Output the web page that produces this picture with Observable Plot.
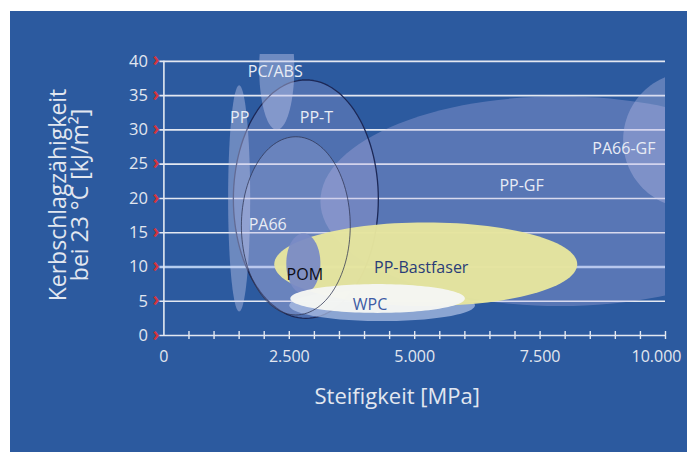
<!DOCTYPE html>
<html><head><meta charset="utf-8">
<script src="https://cdn.jsdelivr.net/npm/d3@7"></script>
<script src="https://cdn.jsdelivr.net/npm/@observablehq/plot@0.6"></script>
<style>
html,body{margin:0;padding:0;background:#fff;width:687px;height:452px;overflow:hidden}
#panel{position:absolute;left:10px;top:11px;width:677px;height:441px;background:#2c5a9f}
#chart{position:absolute;left:0;top:0}
</style></head><body><div id="panel"></div><div id="chart"></div>
<script>
// Werkstoffbereiche: Steifigkeit [MPa] (Mitte, Halbbreite), Kerbschlagzähigkeit [kJ/m²] (Mitte, Halbhöhe)
const materials     = ["PP-GF", "PA66-GF", "PP-T", "PA66", "PP", "PC/ABS", "WPC-Rand", "PP-Bastfaser", "POM", "WPC"];
const stiffCenter   = [7900, 10490, 2830, 2630, 1500, 2250, 4350, 5220, 2780, 4260];
const stiffRadius   = [4780, 1335, 1445, 1085, 220, 350, 1850, 3020, 340, 1740];
const impactCenter  = [19.6, 28.5, 19.9, 16.0, 20.0, 39.0, 4.4, 10.4, 10.5, 5.4];
const impactRadius  = [15.3, 9.9, 17.4, 13.0, 16.5, 9.0, 2.3, 6.1, 4.4, 2.1];

// Beschriftungen (Lage in Datenkoordinaten)
const labelNames    = ["PC/ABS", "PP", "PP-T", "PA66", "POM", "PP-Bastfaser", "WPC", "PP-GF", "PA66-GF"];
const labelStiff    = [2220, 1510, 3040, 2070, 2810, 5130, 4110, 7130, 9170];
const labelImpact   = [38.4, 31.8, 31.7, 16.1, 8.8, 9.8, 4.4, 21.8, 27.3];

const yTicks = [0, 5, 10, 15, 20, 25, 30, 35, 40];
const xTicks = [0, 500, 1000, 1500, 2000, 2500, 3000, 3500, 4000, 4500, 5000, 5500, 6000, 6500, 7000, 7500, 8000, 8500, 9000, 9500, 10000];
const xLabels = [0, 2500, 5000, 7500];
const xLastLabel = [10000];

// Stile
const styles = {
  "PP-GF":        {fill: "#c0b8e8", fillOpacity: 0.30, stroke: "none", clip: true},
  "PA66-GF":      {fill: "#c8c8ee", fillOpacity: 0.34, stroke: "none", clip: true},
  "PP-T":         {fill: "#c0b8e8", fillOpacity: 0.24, stroke: "#1c2857", strokeWidth: 1.3},
  "PA66":         {fill: "#c8c8ee", fillOpacity: 0.22, stroke: "none"},
  "PP":           {fill: "#ccd0f0", fillOpacity: 0.40, stroke: "none"},
  "PC/ABS":       {fill: "#ccd0f0", fillOpacity: 0.42, stroke: "none", clip: true},
  "WPC-Rand":     {fill: "#b3c5e8", fillOpacity: 0.7, stroke: "none"},
  "PP-Bastfaser": {fill: "#e6e59e", fillOpacity: 0.97, stroke: "none"},
  "POM":          {fill: "#7a8bc5", fillOpacity: 0.95, stroke: "none"},
  "WPC":          {fill: "#f5f6f3", fillOpacity: 0.97, stroke: "none"}
};
const labelColors = {"POM": "#0c0c14", "PP-Bastfaser": "#2a3d78", "WPC": "#3e5ba4"};

function outline(i) {
  const pts = [];
  const n = 120;
  for (let k = 0; k < n; k++) {
    const t = 2 * Math.PI * k / n;
    pts.push({x: stiffCenter[i] + stiffRadius[i] * Math.cos(t), y: impactCenter[i] + impactRadius[i] * Math.sin(t)});
  }
  return pts;
}

const de = d3.formatLocale({decimal: ",", thousands: ".", grouping: [3], currency: ["", " €"]});
const fmt = de.format(",");

const shapeMarks = materials.map((m, i) => {
  const s = styles[m];
  return Plot.line(outline(i), {x: "x", y: "y", curve: "linear-closed", fill: s.fill, fillOpacity: s.fillOpacity,
    stroke: s.stroke, strokeWidth: s.strokeWidth || 1, clip: !!s.clip});
});
const blueShapes = shapeMarks.slice(0, 6);
const topShapes = shapeMarks.slice(6);
const pa66Index = materials.indexOf("PA66");
const txt = "#e2e7f0";

const chart = Plot.plot({
  width: 687, height: 452,
  marginLeft: 163.4, marginRight: 22, marginTop: 54, marginBottom: 117,
  x: {domain: [0, 10000], axis: null},
  y: {domain: [0, 41], axis: null},
  style: {background: "transparent", fontFamily: "'Open Sans', sans-serif", overflow: "visible"},
  marks: [
    Plot.ruleY(yTicks.filter(d => d !== 10 && d !== 0), {y: d => d, x1: 0, x2: 10000, insetLeft: -4, stroke: "#e3e8f1", strokeWidth: 1.6}),
    Plot.ruleY(yTicks.filter(d => d === 10), {y: d => d, x1: 0, x2: 10000, insetLeft: -4, stroke: "#b4cdf0", strokeWidth: 2.6}),
    ...blueShapes,
    ...topShapes,
    Plot.line(outline(pa66Index), {x: "x", y: "y", curve: "linear-closed", fill: "none", stroke: "#2d3350", strokeOpacity: 0.75, strokeWidth: 1}),
    Plot.ruleY([0], {y: d => d, x1: 0, x2: 10000, insetLeft: -4, stroke: "#e3e8f1", strokeWidth: 1.6}),
    Plot.ruleX([0], {x: d => d, y1: 0, y2: 40, stroke: "#e3e8f1", strokeWidth: 1.6}),
    Plot.ruleX(xTicks.filter(d => d > 0), {x: d => d, y1: 0, y2: 0, insetTop: -4, insetBottom: -4, stroke: "#e3e8f1", strokeWidth: 1.4}),
    Plot.text(yTicks, {x: 0, y: d => d, text: d => String(d), dx: -16, textAnchor: "end", fill: txt, fontSize: 16.5}),
    Plot.text(yTicks, {x: 0, y: d => d, text: () => "›", dx: -8, dy: -1, fill: "#d3343c", fontSize: 19, fontWeight: "bold"}),
    Plot.text(xLabels, {x: d => d, y: 0, text: d => fmt(d), dy: 21, fill: txt, fontSize: 16}),
    Plot.text(xLastLabel, {x: d => d, y: 0, text: d => fmt(d), dy: 21, dx: 16, textAnchor: "end", fill: txt, fontSize: 16}),
    Plot.text(labelNames, {x: (d, i) => labelStiff[i], y: (d, i) => labelImpact[i], text: d => d,
      fill: d => labelColors[d] || "#e8ecf5", fontSize: 16}),
    Plot.text(["Steifigkeit [MPa]"], {frameAnchor: "bottom", text: d => d, dx: -17.5, dy: 68, fill: txt, fontSize: 22}),
    Plot.text(["Kerbschlagzähigkeit"], {frameAnchor: "left", textAnchor: "middle", text: d => d, rotate: -90, dx: -105, fill: txt, fontSize: 23}),
    Plot.text(["bei 23 °C [kJ/m²]"], {frameAnchor: "left", textAnchor: "middle", text: d => d, rotate: -90, dx: -83, fill: txt, fontSize: 23})
  ]
});
document.getElementById("chart").appendChild(chart);
</script></body></html>
